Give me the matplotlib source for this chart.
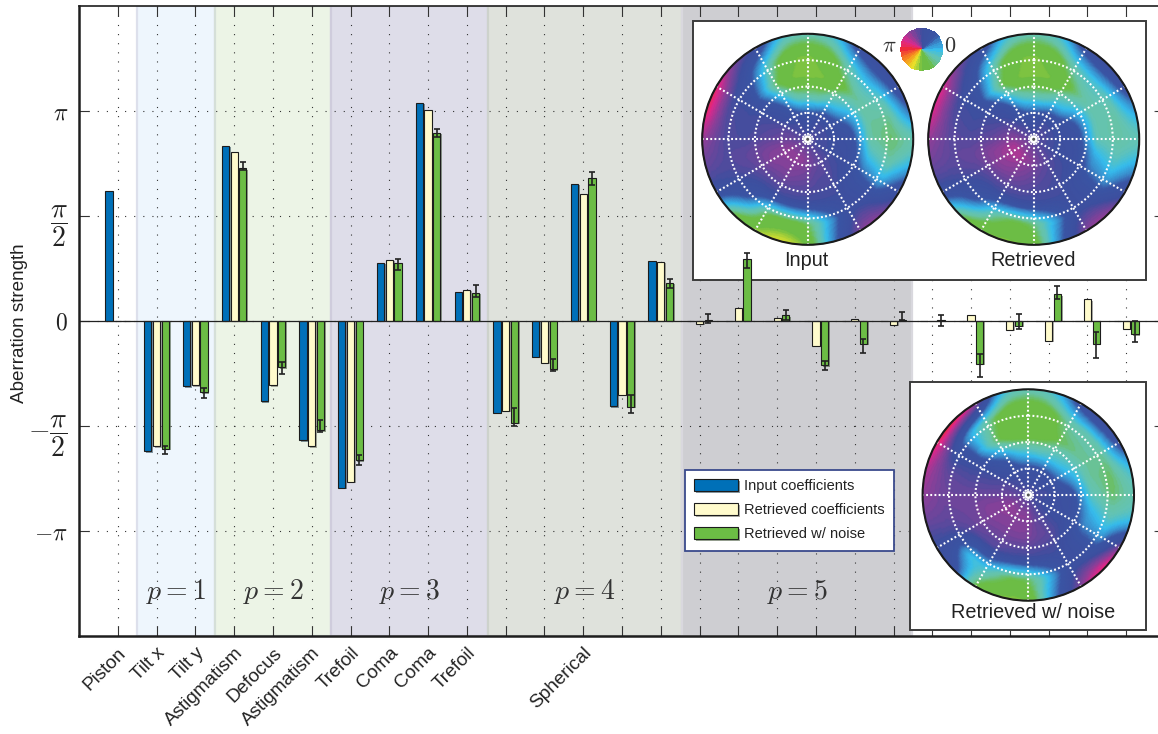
import numpy as np
from matplotlib import pyplot as plt
from matplotlib import patheffects as pe
from matplotlib.colors import LinearSegmentedColormap
from matplotlib.patches import Circle, Rectangle
from matplotlib.transforms import Affine2D, ScaledTranslation

W, H = 1158, 734

plt.rcParams['font.family'] = ['Liberation Sans', 'DejaVu Sans']
plt.rcParams['mathtext.fontset'] = 'cm'

# bar heights, in units of pi
input_coeff = [0.62, -0.62, -0.311, 0.833, -0.383, -0.568, -0.795, 0.278, 1.038, 0.14,
               -0.438, -0.17, 0.654, -0.406, 0.288,
               0, 0, 0, 0, 0, 0, 0, 0, 0, 0, 0, 0]
retrieved_coeff = [0, -0.597, -0.307, 0.807, -0.307, -0.597, -0.766, 0.292, 1.005, 0.15,
                   -0.429, -0.199, 0.606, -0.351, 0.283,
                   -0.013, 0.063, 0.014, -0.117, 0.01, -0.017, 0, 0.027, -0.043, -0.095, 0.103, -0.036]
noise_coeff = [0, -0.61, -0.34, 0.728, -0.221, -0.52, -0.663, 0.278, 0.896, 0.135,
               -0.486, -0.23, 0.682, -0.408, 0.183,
               0.006, 0.296, 0.027, -0.211, -0.109, 0.006, 0.005, -0.203, -0.024, 0.127, -0.109, -0.063]
noise_top = [np.nan, -0.597, -0.321, 0.758, -0.197, -0.473, -0.639, 0.297, 0.915, 0.173,
             -0.416, -0.183, 0.71, -0.354, 0.202,
             0.032, 0.325, 0.052, -0.19, -0.084, 0.043, 0.027, -0.155, 0.032, 0.166, -0.052, 0.0]
noise_bottom = [np.nan, -0.635, -0.368, 0.72, -0.254, -0.53, -0.687, 0.245, 0.877, 0.116,
                -0.501, -0.239, 0.649, -0.436, 0.159,
                -0.008, 0.254, 0.005, -0.234, -0.151, 0.003, -0.024, -0.266, -0.04, 0.103, -0.174, -0.098]

term_ticks = [0, 1, 2, 3, 4, 5, 6, 7, 8, 9, 12]
term_names = ['Piston', 'Tilt x', 'Tilt y', 'Astigmatism', 'Defocus', 'Astigmatism',
              'Trefoil', 'Coma', 'Coma', 'Trefoil', 'Spherical']

band_edges = [0.5, 2.5, 5.5, 9.55, 14.55, 20.48]
band_names = ['$p=1$', '$p=2$', '$p=3$', '$p=4$', '$p=5$']
band_colors = ['#EEF6FD', '#ECF4E6', '#DEDDE9', '#DFE2DC', '#CECED2']
band_lines = ['#DDE0EC', '#D5DFD8', '#CFCCDC', '#CDD2CC', '#D9D8DE']

# phase in units of pi, one row per angle (0, 15, ... 345 deg), columns r = .2 .4 .6 .8 1
input_centre = 0.55
input_phase = [
    [.50, .42, -.22, -.30, -.25], [.50, .30, -.22, -.25, .20], [.50, .15, -.22, -.10, .45],
    [.50, .00, -.25, .05, .50], [.50, -.05, -.42, -.12, .40], [.45, -.18, -.52, -.45, -.10],
    [.40, -.16, -.52, -.52, -.20], [.45, -.16, -.52, -.48, -.10], [.50, .10, -.32, -.10, .50],
    [.50, .40, .10, .35, .65], [.55, .50, .50, .50, .95], [.60, .55, .50, .55, .95],
    [.62, .58, .52, .55, .72], [.68, .66, .60, .55, .60], [.72, .68, .55, .50, .45],
    [.72, .65, .50, .25, -.40], [.72, .65, .50, -.32, -.55], [.72, .62, .50, -.40, -.66],
    [.68, .60, .50, -.32, -.52], [.62, .55, .50, .05, .20], [.58, .55, .50, .50, .72],
    [.55, .50, .42, .48, .68], [.50, .48, .20, .05, .45], [.50, .45, -.05, -.22, .00]]
retrieved_centre = 0.58
retrieved_phase = [
    [.50, .42, -.16, -.22, -.20], [.50, .35, -.16, -.22, .05], [.50, .20, -.18, -.14, .40],
    [.50, .00, -.25, -.02, .50], [.50, -.03, -.42, -.12, .42], [.45, -.15, -.52, -.45, -.10],
    [.40, -.14, -.52, -.52, -.20], [.42, -.10, -.52, -.48, -.10], [.50, .10, -.34, -.14, .45],
    [.52, .45, .05, .35, .62], [.58, .50, .48, .50, .88], [.65, .55, .50, .55, .88],
    [.70, .60, .55, .58, .72], [.76, .70, .62, .58, .62], [.78, .70, .55, .50, .45],
    [.78, .68, .50, .30, -.30], [.75, .65, .50, -.15, -.52], [.72, .62, .50, -.36, -.52],
    [.68, .58, .50, -.28, -.50], [.62, .55, .50, .05, .20], [.58, .52, .50, .50, .72],
    [.55, .50, .42, .45, .74], [.50, .47, .20, .10, .45], [.50, .45, .05, -.12, .05]]
noise_centre = 0.55
noise_phase = [
    [.50, .40, -.14, -.30, -.20], [.50, .20, -.22, -.30, -.05], [.45, .05, -.22, -.22, .40],
    [.45, -.02, -.26, -.17, .50], [.45, -.05, -.32, -.17, .40], [.45, -.08, -.44, -.42, -.08],
    [.45, -.05, -.47, -.52, -.18], [.45, .00, -.47, -.47, -.08], [.50, .20, -.32, -.20, .78],
    [.50, .35, .00, .05, 1.02], [.55, .50, .48, .45, .96], [.58, .55, .55, .60, .78],
    [.62, .62, .62, .62, .72], [.68, .68, .62, .60, .62], [.72, .68, .60, .50, .45],
    [.72, .66, .55, -.08, .45], [.70, .66, .55, -.02, -.45], [.70, .66, .50, -.32, -.52],
    [.70, .66, .50, -.32, -.54], [.60, .60, .50, .00, .20], [.55, .58, .50, .48, .70],
    [.50, .50, .40, .42, .98], [.48, .45, .15, .10, .72], [.48, .42, .05, -.15, -.05]]

phase_nodes = [0, 0.1, 0.175, 0.25, 0.33, 0.39, 0.43, 0.5, 0.57, 0.63, 0.75, 0.86, 0.94, 1]
phase_colors = ['#EE2A3C', '#F7941D', '#E8E52B', '#6CBD45', '#6CBD45', '#68C3A6', '#62C3B8', '#35BDEE',
                '#3A8CCC', '#3A55A4', '#3D4F9F', '#8E3F98', '#E0288C', '#EE2A3C']
phase_cmap = LinearSegmentedColormap.from_list('phase', list(zip(phase_nodes, phase_colors)), N=72)

blue, cream, green = '#0070B8', '#FFFBCC', '#6CBD45'

x = np.arange(len(input_coeff))

fig = plt.figure(figsize=(W / 100, H / 100), dpi=100)
ax = fig.add_axes([79 / W, 1 - 636 / H, 1086 / W, 630 / H])

# figure pixels, y going down
px = Affine2D().scale(1 / W, -1 / H).translate(0, 1) + fig.transFigure

for i in range(len(band_names)):
    ax.axvspan(band_edges[i], band_edges[i + 1], facecolor=band_colors[i], edgecolor=band_lines[i],
               lw=1.6, zorder=0.1)
    ax.text((band_edges[i] + band_edges[i + 1]) / 2, -1.286, band_names[i], fontsize=20, color='#333333',
            ha='center', va='center', zorder=0.6)

ax.set_axisbelow(True)
ax.grid(True, color='#333333', lw=0.8, ls=(0, (1, 7.2)))


def draw_box(x0, y0, x1, y1):
    ax.add_patch(Rectangle((x0, y0), x1 - x0, y1 - y0, transform=px, facecolor='white', edgecolor='#3C3C3C',
                           lw=1.4, zorder=1, path_effects=[pe.SimplePatchShadow((1, -1), alpha=0.3), pe.Normal()]))


def draw_disc(cx, cy, R, rows, centre):
    grid = np.vstack([np.full(24, centre), np.array(rows).T])
    radii = np.array([0, 0.2, 0.4, 0.6, 0.8, 1.0])
    angles = np.deg2rad(np.arange(0, 360, 15))
    th_f = np.deg2rad(np.arange(0, 361, 1.0))
    r_f = np.linspace(0, 1, 121)
    z = np.array([np.interp(th_f, angles, row, period=2 * np.pi) for row in grid])
    z = np.array([np.interp(r_f, radii, col) for col in z.T]).T
    # soften the corners of the reading grid
    k = np.hanning(25)[1:-1]
    k = k / k.sum()
    z = np.array([np.convolve(np.r_[row[-12:-1], row, row[1:12]], k, mode='same')[11:-11] for row in z])
    k = np.hanning(11)[1:-1]
    k = k / k.sum()
    z = np.array([np.convolve(np.pad(col, 5, mode='edge'), k, mode='same')[5:-5] for col in z.T]).T
    X = cx + R * np.outer(r_f, np.cos(th_f))
    Y = cy - R * np.outer(r_f, np.sin(th_f))
    ax.pcolormesh(X, Y, z, cmap=phase_cmap, vmin=-1, vmax=1, shading='gouraud', transform=px, zorder=1.1)
    for f in (0.25, 0.5, 0.75):
        ax.add_patch(Circle((cx, cy), f * R, transform=px, fill=False, edgecolor='white', lw=1.5,
                            ls=(0, (0.9, 1.1)), zorder=1.2))
    for a in np.deg2rad(np.arange(0, 360, 30)):
        ax.plot([cx, cx + R * np.cos(a)], [cy, cy - R * np.sin(a)], color='white', lw=1.5,
                ls=(0, (0.9, 1.1)), transform=px, zorder=1.2)
    ax.add_patch(Circle((cx, cy), 4, transform=px, facecolor='white', edgecolor='none', zorder=1.3))
    ax.add_patch(Circle((cx, cy), 1.5, transform=px, facecolor='#555555', edgecolor='none', zorder=1.3))
    ax.add_patch(Circle((cx, cy), R, transform=px, fill=False, edgecolor='#1A1A1A', lw=1.5, zorder=1.4))


draw_box(693, 21, 1146, 280)
draw_box(910, 382, 1146, 630)
draw_disc(807.7, 139.3, 105.5, input_phase, input_centre)
draw_disc(1033.7, 139.3, 105.5, retrieved_phase, retrieved_centre)
draw_disc(1028.3, 495, 105.7, noise_phase, noise_centre)

ax.text(806, 260, 'Input', transform=px, fontsize=14.3, color='#222222', ha='center', va='center', zorder=1.5)
ax.text(1033, 260, 'Retrieved', transform=px, fontsize=14.3, color='#222222', ha='center', va='center', zorder=1.5)
ax.text(1033, 613, 'Retrieved w/ noise', transform=px, fontsize=14.3, color='#222222', ha='center', va='center',
        zorder=1.5)

# colour wheel
wheel_th = np.deg2rad(np.arange(0, 361, 7.5))
wheel_r = np.array([0, 1])
wheel_x = 921.7 + 21.3 * np.outer(wheel_r, np.cos(wheel_th))
wheel_y = 49.3 - 21.3 * np.outer(wheel_r, np.sin(wheel_th))
wheel_c = np.angle(np.exp(1j * (wheel_th[:-1] + wheel_th[1:]) / 2)) / np.pi
ax.pcolormesh(wheel_x, wheel_y, wheel_c[None, :], cmap=phase_cmap, vmin=-1, vmax=1, shading='flat', transform=px,
              zorder=1.2)
ax.text(889, 47, r'$\pi$', transform=px, fontsize=16, color='#333333', ha='center', va='center', zorder=1.5)
ax.text(950, 47, r'$0$', transform=px, fontsize=16, color='#333333', ha='center', va='center', zorder=1.5)

shadow = [pe.SimplePatchShadow((1.2, -1), alpha=0.45), pe.Normal()]
off = 0.225
bw = 0.185
b1 = ax.bar(x - off, input_coeff, bw, color=blue, edgecolor='#1C1C1C', lw=0.8, zorder=3, path_effects=shadow,
            label='Input coefficients')
b2 = ax.bar(x, retrieved_coeff, bw, color=cream, edgecolor='#1C1C1C', lw=0.8, zorder=3, path_effects=shadow,
            label='Retrieved coefficients')
b3 = ax.bar(x + off, noise_coeff, bw, color=green, edgecolor='#1C1C1C', lw=0.8, zorder=3, path_effects=shadow,
            label='Retrieved w/ noise')
top = np.array(noise_top)
bottom = np.array(noise_bottom)
mid = (top + bottom) / 2
ax.errorbar(x + off, mid, yerr=[mid - bottom, top - mid], fmt='none', ecolor='#222222', elinewidth=1.2, capsize=2.2,
            capthick=1.2, zorder=4)

ax.axhline(0, color='#222222', lw=0.9, zorder=3.5)

ax.set_xlim(-1, 27)
ax.set_ylim(-1.5, 1.5)
ax.set_xticks(x)
labels = [''] * len(x)
for t, name in zip(term_ticks, term_names):
    labels[t] = name
ax.set_xticklabels(labels, rotation=45, ha='right', rotation_mode='anchor', fontsize=13.7, color='#222222')
shift = ScaledTranslation(-4 / 100, 0, fig.dpi_scale_trans)
for lab in ax.get_xticklabels():
    lab.set_transform(lab.get_transform() + shift)
ax.set_yticks([-1, -0.5, 0, 0.5, 1])
ax.set_yticklabels([r'$-\pi$', r'$-\dfrac{\pi}{2}$', r'$0$', r'$\dfrac{\pi}{2}$', r'$\pi$'], fontsize=17,
                   color='#222222')
for lab, size in zip(ax.get_yticklabels(), [17, 20, 17, 20, 17]):
    lab.set_fontsize(size)
ax.tick_params(axis='both', which='both', direction='in', length=7.5, width=0.8, color='#333333',
               top=True, right=True)
ax.tick_params(axis='x', pad=6)
ax.tick_params(axis='y', pad=8)
for name, lw in [('left', 1.8), ('bottom', 1.8), ('top', 1.2), ('right', 1.2)]:
    ax.spines[name].set_linewidth(lw)
    ax.spines[name].set_color('#1E1E1E')
    ax.spines[name].set_zorder(6)

fig.text(20 / W, 1 - 323 / H, 'Aberration strength', rotation=90, fontsize=13.6, color='#222222', ha='center',
         va='center')

leg = ax.legend(handles=[b1, b2, b3], loc='upper left', bbox_to_anchor=(684.5, 469.5), bbox_transform=px,
                fontsize=10.5, fancybox=False, framealpha=1, edgecolor='#3A4A8C', borderaxespad=0, borderpad=0.66,
                handlelength=3.0, handleheight=0.9, labelspacing=0.68, handletextpad=0.39, labelcolor='#222222')
leg.get_frame().set_linewidth(1.3)
leg.set_zorder(5)

fig.savefig('out.png', dpi=100)
